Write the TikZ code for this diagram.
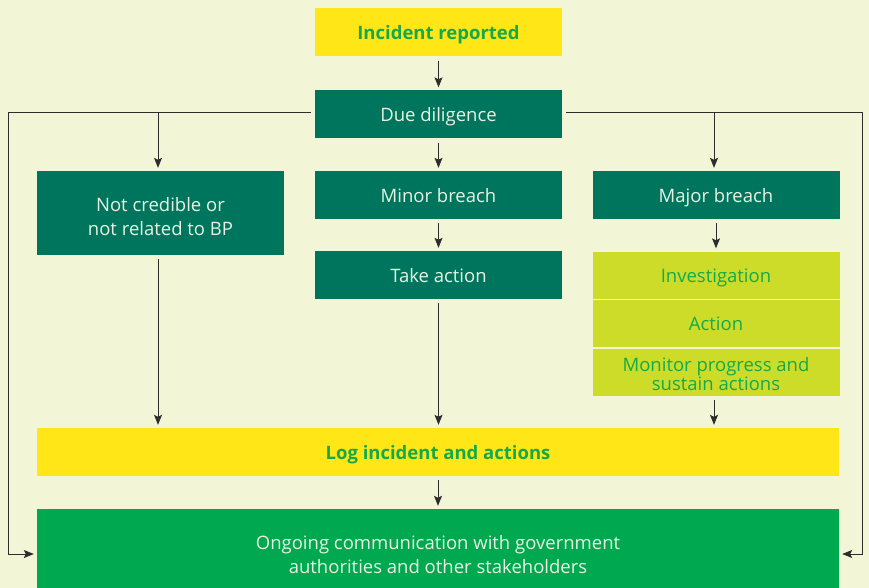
\documentclass[tikz,border=0pt]{standalone}
\usepackage{fontspec}
\setmainfont{Open Sans}
\usetikzlibrary{positioning,arrows.meta}
\definecolor{bgcream}{RGB}{243,246,214}
\definecolor{bpyellow}{RGB}{255,230,22}
\definecolor{bpteal}{RGB}{0,117,94}
\definecolor{bplime}{RGB}{205,220,40}
\definecolor{bpgreen}{RGB}{0,168,79}
\definecolor{bptext}{RGB}{20,170,75}
\definecolor{paletext}{RGB}{232,242,226}
\definecolor{linegrey}{RGB}{45,45,45}

\begin{document}
\begin{tikzpicture}[
  x=1pt, y=-1pt,
  every node/.style={font=\fontsize{18.5}{24}\selectfont, inner sep=0pt, align=center},
  box/.style={minimum width=247pt, minimum height=48pt},
  oneline/.style={text height=16pt, text depth=2pt},
  flag/.style={box, oneline, fill=bpyellow, text=bptext, font=\fontsize{18.5}{24}\selectfont\bfseries},
  stepbox/.style={box, fill=bpteal, text=paletext},
  review/.style={box, fill=bplime, text=bptext, minimum height=47pt},
  outcome/.style={fill=bpgreen, text=paletext, minimum width=802pt},
  arr/.style={-{Stealth[length=10pt,width=8pt,inset=2pt]}, draw=linegrey, line width=0.8pt,
    shorten <=4pt, shorten >=3pt}
]
\fill[bgcream] (0,0) rectangle (869,588);
\useasboundingbox (0,0) rectangle (869,588);
\clip (0,0) rectangle (869,588);

% top of the chart
\node[flag] (reported) at (438.5,32.5) {Incident reported};
\node[stepbox, oneline] (diligence) at (438.5,114.5) {Due diligence};

% three branches
\node[stepbox, minimum height=84pt, text height=44pt, text depth=0pt] (notcredible) at (160.5,213) {Not credible or\\not related to BP};
\node[stepbox, oneline] (minor) at (438.5,195) {Minor breach};
\node[stepbox, oneline] (major) at (716,195) {Major breach};
\node[stepbox, oneline] (takeaction) at (438.5,275) {Take action};

% major breach follow-up
\node[review, oneline] (investigation) at (716,275) {Investigation};
\node[review, oneline] (action) at (716,323.5) {Action};
\node[review, font=\fontsize{18.5}{19}\selectfont, text height=37pt, text depth=0pt] (monitor) at (716,372) {Monitor progress and\\sustain actions};

% bottom of the chart
\node[flag, minimum width=802pt] (logged) at (438,452) {Log incident and actions};
\node[outcome, minimum height=88pt, text height=40pt, text depth=0pt] (ongoing) at (438,553) {Ongoing communication with government\\authorities and other stakeholders};

\coordinate (leftrail) at (8,112);
\coordinate (rightrail) at (862,112);
\coordinate (leftfork) at (158,112);
\coordinate (rightfork) at (714,112);

\draw[arr] (reported) -- (diligence);
\draw[arr] (diligence) -- (minor);
\draw[arr] (minor) -- (takeaction);
\draw[arr] (major) -- (investigation);
\draw[arr] (notcredible.south -| leftfork) -- (logged.north -| leftfork);
\draw[arr] (takeaction) -- (takeaction |- logged.north);
\draw[arr] (monitor.south -| rightfork) -- (logged.north -| rightfork);
\draw[arr] (logged) -- (logged |- ongoing.north);

% side rails from due diligence
\draw[arr] (diligence.west |- leftrail) -- (leftrail) |- ([yshift=-1pt]ongoing.west);
\draw[arr] (diligence.east |- rightrail) -- (rightrail) |- ([yshift=-1pt]ongoing.east);
\draw[arr, shorten <=0pt] (leftfork) -- (notcredible.north -| leftfork);
\draw[arr, shorten <=0pt] (rightfork) -- (major.north -| rightfork);

\end{tikzpicture}
\end{document}
